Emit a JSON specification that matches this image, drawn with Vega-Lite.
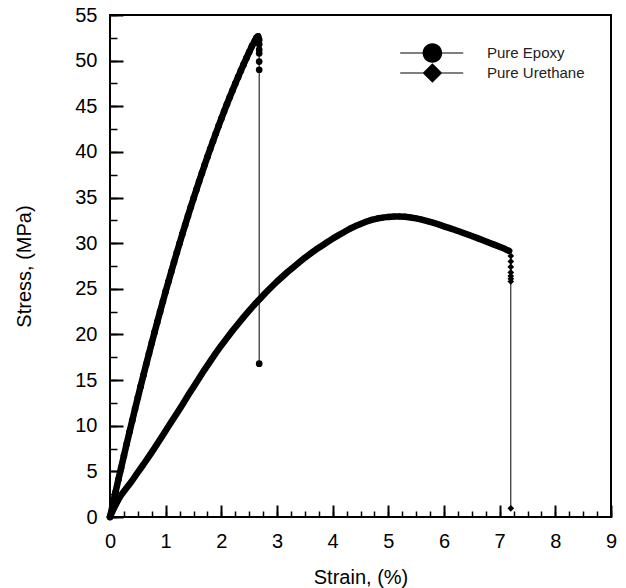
{
  "$schema": "https://vega.github.io/schema/vega-lite/v6.json",
  "width": 501,
  "height": 502,
  "autosize": {"type": "none"},
  "padding": {"left": 110, "top": 15, "right": 15, "bottom": 71},
  "background": "white",
  "config": {
    "view": {"stroke": "black", "strokeWidth": 2},
    "font": "Liberation Sans"
  },
  "data": {"values": [
    {"s":"Pure Epoxy","i":0,"p":"L","x":0,"y":0},
    {"s":"Pure Epoxy","i":1,"p":"L","x":0.05,"y":1.37},
    {"s":"Pure Epoxy","i":2,"p":"L","x":0.1,"y":2.73},
    {"s":"Pure Epoxy","i":3,"p":"L","x":0.15,"y":4.08},
    {"s":"Pure Epoxy","i":4,"p":"L","x":0.2,"y":5.4},
    {"s":"Pure Epoxy","i":5,"p":"L","x":0.25,"y":6.72},
    {"s":"Pure Epoxy","i":6,"p":"L","x":0.3,"y":8.02},
    {"s":"Pure Epoxy","i":7,"p":"L","x":0.35,"y":9.31},
    {"s":"Pure Epoxy","i":8,"p":"L","x":0.4,"y":10.58},
    {"s":"Pure Epoxy","i":9,"p":"L","x":0.45,"y":11.84},
    {"s":"Pure Epoxy","i":10,"p":"L","x":0.5,"y":13.08},
    {"s":"Pure Epoxy","i":11,"p":"L","x":0.55,"y":14.31},
    {"s":"Pure Epoxy","i":12,"p":"L","x":0.6,"y":15.52},
    {"s":"Pure Epoxy","i":13,"p":"L","x":0.65,"y":16.72},
    {"s":"Pure Epoxy","i":14,"p":"L","x":0.7,"y":17.9},
    {"s":"Pure Epoxy","i":15,"p":"L","x":0.75,"y":19.07},
    {"s":"Pure Epoxy","i":16,"p":"L","x":0.8,"y":20.23},
    {"s":"Pure Epoxy","i":17,"p":"L","x":0.85,"y":21.37},
    {"s":"Pure Epoxy","i":18,"p":"L","x":0.9,"y":22.5},
    {"s":"Pure Epoxy","i":19,"p":"L","x":0.95,"y":23.61},
    {"s":"Pure Epoxy","i":20,"p":"L","x":1.0,"y":24.71},
    {"s":"Pure Epoxy","i":21,"p":"L","x":1.05,"y":25.79},
    {"s":"Pure Epoxy","i":22,"p":"L","x":1.1,"y":26.86},
    {"s":"Pure Epoxy","i":23,"p":"L","x":1.15,"y":27.92},
    {"s":"Pure Epoxy","i":24,"p":"L","x":1.2,"y":28.96},
    {"s":"Pure Epoxy","i":25,"p":"L","x":1.25,"y":29.98},
    {"s":"Pure Epoxy","i":26,"p":"L","x":1.3,"y":31.0},
    {"s":"Pure Epoxy","i":27,"p":"L","x":1.35,"y":31.99},
    {"s":"Pure Epoxy","i":28,"p":"L","x":1.4,"y":32.98},
    {"s":"Pure Epoxy","i":29,"p":"L","x":1.45,"y":33.94},
    {"s":"Pure Epoxy","i":30,"p":"L","x":1.5,"y":34.9},
    {"s":"Pure Epoxy","i":31,"p":"L","x":1.55,"y":35.84},
    {"s":"Pure Epoxy","i":32,"p":"L","x":1.6,"y":36.76},
    {"s":"Pure Epoxy","i":33,"p":"L","x":1.65,"y":37.67},
    {"s":"Pure Epoxy","i":34,"p":"L","x":1.7,"y":38.57},
    {"s":"Pure Epoxy","i":35,"p":"L","x":1.75,"y":39.45},
    {"s":"Pure Epoxy","i":36,"p":"L","x":1.8,"y":40.32},
    {"s":"Pure Epoxy","i":37,"p":"L","x":1.85,"y":41.17},
    {"s":"Pure Epoxy","i":38,"p":"L","x":1.9,"y":42.01},
    {"s":"Pure Epoxy","i":39,"p":"L","x":1.95,"y":42.83},
    {"s":"Pure Epoxy","i":40,"p":"L","x":2.0,"y":43.64},
    {"s":"Pure Epoxy","i":41,"p":"L","x":2.05,"y":44.44},
    {"s":"Pure Epoxy","i":42,"p":"L","x":2.1,"y":45.22},
    {"s":"Pure Epoxy","i":43,"p":"L","x":2.15,"y":45.98},
    {"s":"Pure Epoxy","i":44,"p":"L","x":2.2,"y":46.73},
    {"s":"Pure Epoxy","i":45,"p":"L","x":2.25,"y":47.47},
    {"s":"Pure Epoxy","i":46,"p":"L","x":2.3,"y":48.19},
    {"s":"Pure Epoxy","i":47,"p":"L","x":2.35,"y":48.9},
    {"s":"Pure Epoxy","i":48,"p":"L","x":2.4,"y":49.59},
    {"s":"Pure Epoxy","i":49,"p":"L","x":2.45,"y":50.27},
    {"s":"Pure Epoxy","i":50,"p":"L","x":2.5,"y":50.94},
    {"s":"Pure Epoxy","i":51,"p":"L","x":2.55,"y":51.59},
    {"s":"Pure Epoxy","i":52,"p":"L","x":2.6,"y":52.15},
    {"s":"Pure Epoxy","i":53,"p":"L","x":2.63,"y":52.5},
    {"s":"Pure Epoxy","i":54,"p":"L","x":2.66,"y":52.65},
    {"s":"Pure Epoxy","i":55,"p":"F","x":2.68,"y":52.3},
    {"s":"Pure Epoxy","i":56,"p":"F","x":2.68,"y":51.8},
    {"s":"Pure Epoxy","i":57,"p":"F","x":2.68,"y":51.2},
    {"s":"Pure Epoxy","i":58,"p":"F","x":2.68,"y":50.8},
    {"s":"Pure Epoxy","i":59,"p":"F","x":2.68,"y":49.9},
    {"s":"Pure Epoxy","i":60,"p":"F","x":2.68,"y":49.0},
    {"s":"Pure Epoxy","i":61,"p":"F","x":2.68,"y":16.8},
    {"s":"Pure Urethane","i":0,"p":"L","x":0,"y":0},
    {"s":"Pure Urethane","i":1,"p":"L","x":0.05,"y":0.7},
    {"s":"Pure Urethane","i":2,"p":"L","x":0.1,"y":1.3},
    {"s":"Pure Urethane","i":3,"p":"L","x":0.15,"y":1.9},
    {"s":"Pure Urethane","i":4,"p":"L","x":0.2,"y":2.4},
    {"s":"Pure Urethane","i":5,"p":"L","x":0.3,"y":3.2},
    {"s":"Pure Urethane","i":6,"p":"L","x":0.4,"y":4.0},
    {"s":"Pure Urethane","i":7,"p":"L","x":0.5,"y":4.9},
    {"s":"Pure Urethane","i":8,"p":"L","x":0.6,"y":5.75},
    {"s":"Pure Urethane","i":9,"p":"L","x":0.7,"y":6.65},
    {"s":"Pure Urethane","i":10,"p":"L","x":0.8,"y":7.55},
    {"s":"Pure Urethane","i":11,"p":"L","x":0.9,"y":8.5},
    {"s":"Pure Urethane","i":12,"p":"L","x":1.0,"y":9.45},
    {"s":"Pure Urethane","i":13,"p":"L","x":1.1,"y":10.4},
    {"s":"Pure Urethane","i":14,"p":"L","x":1.2,"y":11.35},
    {"s":"Pure Urethane","i":15,"p":"L","x":1.3,"y":12.3},
    {"s":"Pure Urethane","i":16,"p":"L","x":1.4,"y":13.3},
    {"s":"Pure Urethane","i":17,"p":"L","x":1.5,"y":14.25},
    {"s":"Pure Urethane","i":18,"p":"L","x":1.6,"y":15.2},
    {"s":"Pure Urethane","i":19,"p":"L","x":1.7,"y":16.15},
    {"s":"Pure Urethane","i":20,"p":"L","x":1.8,"y":17.05},
    {"s":"Pure Urethane","i":21,"p":"L","x":1.9,"y":17.95},
    {"s":"Pure Urethane","i":22,"p":"L","x":2.0,"y":18.8},
    {"s":"Pure Urethane","i":23,"p":"L","x":2.1,"y":19.6},
    {"s":"Pure Urethane","i":24,"p":"L","x":2.2,"y":20.4},
    {"s":"Pure Urethane","i":25,"p":"L","x":2.3,"y":21.15},
    {"s":"Pure Urethane","i":26,"p":"L","x":2.4,"y":21.9},
    {"s":"Pure Urethane","i":27,"p":"L","x":2.5,"y":22.6},
    {"s":"Pure Urethane","i":28,"p":"L","x":2.6,"y":23.3},
    {"s":"Pure Urethane","i":29,"p":"L","x":2.7,"y":23.95},
    {"s":"Pure Urethane","i":30,"p":"L","x":2.8,"y":24.6},
    {"s":"Pure Urethane","i":31,"p":"L","x":2.9,"y":25.2},
    {"s":"Pure Urethane","i":32,"p":"L","x":3.0,"y":25.8},
    {"s":"Pure Urethane","i":33,"p":"L","x":3.1,"y":26.35},
    {"s":"Pure Urethane","i":34,"p":"L","x":3.2,"y":26.9},
    {"s":"Pure Urethane","i":35,"p":"L","x":3.3,"y":27.4},
    {"s":"Pure Urethane","i":36,"p":"L","x":3.4,"y":27.9},
    {"s":"Pure Urethane","i":37,"p":"L","x":3.5,"y":28.4},
    {"s":"Pure Urethane","i":38,"p":"L","x":3.6,"y":28.85},
    {"s":"Pure Urethane","i":39,"p":"L","x":3.7,"y":29.3},
    {"s":"Pure Urethane","i":40,"p":"L","x":3.8,"y":29.7},
    {"s":"Pure Urethane","i":41,"p":"L","x":3.9,"y":30.1},
    {"s":"Pure Urethane","i":42,"p":"L","x":4.0,"y":30.5},
    {"s":"Pure Urethane","i":43,"p":"L","x":4.1,"y":30.85},
    {"s":"Pure Urethane","i":44,"p":"L","x":4.2,"y":31.2},
    {"s":"Pure Urethane","i":45,"p":"L","x":4.3,"y":31.55},
    {"s":"Pure Urethane","i":46,"p":"L","x":4.4,"y":31.85},
    {"s":"Pure Urethane","i":47,"p":"L","x":4.5,"y":32.1},
    {"s":"Pure Urethane","i":48,"p":"L","x":4.6,"y":32.35},
    {"s":"Pure Urethane","i":49,"p":"L","x":4.7,"y":32.55},
    {"s":"Pure Urethane","i":50,"p":"L","x":4.8,"y":32.7},
    {"s":"Pure Urethane","i":51,"p":"L","x":4.9,"y":32.8},
    {"s":"Pure Urethane","i":52,"p":"L","x":5.0,"y":32.88},
    {"s":"Pure Urethane","i":53,"p":"L","x":5.1,"y":32.92},
    {"s":"Pure Urethane","i":54,"p":"L","x":5.2,"y":32.93},
    {"s":"Pure Urethane","i":55,"p":"L","x":5.3,"y":32.9},
    {"s":"Pure Urethane","i":56,"p":"L","x":5.4,"y":32.82},
    {"s":"Pure Urethane","i":57,"p":"L","x":5.5,"y":32.72},
    {"s":"Pure Urethane","i":58,"p":"L","x":5.6,"y":32.58},
    {"s":"Pure Urethane","i":59,"p":"L","x":5.7,"y":32.42},
    {"s":"Pure Urethane","i":60,"p":"L","x":5.8,"y":32.24},
    {"s":"Pure Urethane","i":61,"p":"L","x":5.9,"y":32.05},
    {"s":"Pure Urethane","i":62,"p":"L","x":6.0,"y":31.85},
    {"s":"Pure Urethane","i":63,"p":"L","x":6.1,"y":31.65},
    {"s":"Pure Urethane","i":64,"p":"L","x":6.2,"y":31.44},
    {"s":"Pure Urethane","i":65,"p":"L","x":6.3,"y":31.23},
    {"s":"Pure Urethane","i":66,"p":"L","x":6.4,"y":31.0},
    {"s":"Pure Urethane","i":67,"p":"L","x":6.5,"y":30.78},
    {"s":"Pure Urethane","i":68,"p":"L","x":6.6,"y":30.55},
    {"s":"Pure Urethane","i":69,"p":"L","x":6.7,"y":30.32},
    {"s":"Pure Urethane","i":70,"p":"L","x":6.8,"y":30.08},
    {"s":"Pure Urethane","i":71,"p":"L","x":6.9,"y":29.84},
    {"s":"Pure Urethane","i":72,"p":"L","x":7.0,"y":29.6},
    {"s":"Pure Urethane","i":73,"p":"L","x":7.1,"y":29.35},
    {"s":"Pure Urethane","i":74,"p":"L","x":7.17,"y":29.15},
    {"s":"Pure Urethane","i":75,"p":"F","x":7.2,"y":28.6},
    {"s":"Pure Urethane","i":76,"p":"F","x":7.2,"y":28.0},
    {"s":"Pure Urethane","i":77,"p":"F","x":7.2,"y":27.4},
    {"s":"Pure Urethane","i":78,"p":"F","x":7.2,"y":26.8},
    {"s":"Pure Urethane","i":79,"p":"F","x":7.2,"y":26.4},
    {"s":"Pure Urethane","i":80,"p":"F","x":7.2,"y":26.1},
    {"s":"Pure Urethane","i":81,"p":"F","x":7.2,"y":25.8},
    {"s":"Pure Urethane","i":82,"p":"F","x":7.2,"y":0.95}
  ]},
  "layer": [
    {
      "transform": [{"filter": "datum.p === 'L'"}],
      "mark": {"type": "line", "color": "black", "strokeWidth": 6.5, "strokeCap": "round", "strokeJoin": "round"},
      "encoding": {
        "x": {"field": "x", "type": "quantitative", "scale": {"domain": [0, 9], "nice": false, "zero": false},
          "axis": {"orient": "bottom", "values": [0,0.25,0.5,0.75,1,1.25,1.5,1.75,2,2.25,2.5,2.75,3,3.25,3.5,3.75,4,4.25,4.5,4.75,5,5.25,5.5,5.75,6,6.25,6.5,6.75,7,7.25,7.5,7.75,8,8.25,8.5,8.75,9],
            "tickSize": -6, "tickWidth": 1.5, "tickColor": "black", "labels": false, "domain": false, "grid": false, "title": null}},
        "y": {"field": "y", "type": "quantitative", "scale": {"domain": [0, 55], "nice": false, "zero": false},
          "axis": {"orient": "left", "values": [0,2.5,5,7.5,10,12.5,15,17.5,20,22.5,25,27.5,30,32.5,35,37.5,40,42.5,45,47.5,50,52.5,55],
            "tickSize": -7, "tickWidth": 1.5, "tickColor": "black", "labels": false, "domain": false, "grid": false, "title": null}},
        "detail": {"field": "s"},
        "order": {"field": "i"}
      }
    },
    {
      "mark": {"type": "line", "color": "black", "strokeWidth": 1},
      "encoding": {
        "x": {"field": "x", "type": "quantitative", "axis": null},
        "y": {"field": "y", "type": "quantitative", "axis": null},
        "detail": {"field": "s"},
        "order": {"field": "i"}
      }
    },
    {
      "mark": {"type": "point", "filled": true, "color": "black", "opacity": 1, "size": 45},
      "encoding": {
        "x": {"field": "x", "type": "quantitative",
          "axis": {"orient": "bottom", "values": [0,1,2,3,4,5,6,7,8,9], "tickSize": -12, "tickWidth": 2, "tickColor": "black",
            "domain": false, "grid": false, "labelFontSize": 20, "labelColor": "black", "labelPadding": 26,
            "labelFlush": false, "labelOverlap": false, "labelBound": false,
            "title": "Strain, (%)", "titleFontSize": 20, "titleFontWeight": "normal", "titleColor": "black", "titlePadding": 16}},
        "y": {"field": "y", "type": "quantitative",
          "axis": {"orient": "left", "values": [0,5,10,15,20,25,30,35,40,45,50,55], "tickSize": -13, "tickWidth": 2, "tickColor": "black",
            "domain": false, "grid": false, "labelFontSize": 20, "labelColor": "black", "labelPadding": 26,
            "labelFlush": false, "labelOverlap": false, "labelBound": false,
            "title": "Stress, (MPa)", "titleFontSize": 20, "titleFontWeight": "normal", "titleColor": "black", "titlePadding": 40}},
        "shape": {"field": "s", "type": "nominal",
          "scale": {"domain": ["Pure Epoxy", "Pure Urethane"], "range": ["circle", "diamond"]},
          "legend": null}
      }
    },
    {
      "transform": [{"filter": "false"}],
      "mark": {"type": "point", "filled": true, "color": "black", "opacity": 1},
      "encoding": {
        "x": {"field": "x", "type": "quantitative", "axis": null},
        "y": {"field": "y", "type": "quantitative", "axis": null},
        "shape": {"field": "s", "type": "nominal",
          "scale": {"domain": ["Pure Epoxy", "Pure Urethane"],
            "range": ["M-0.9,-0.07H8.1V0.07H-0.9ZM2.3,0A1.4,1.4,0,1,1,5.1,0A1.4,1.4,0,1,1,2.3,0Z", "M-0.9,-0.07H8.1V0.07H-0.9ZM3.7,-1.4L5.1,0L3.7,1.4L2.3,0Z"]},
          "legend": {"title": null, "orient": "none", "legendX": 289, "legendY": 28, "padding": 0, "rowPadding": 0, "clipHeight": 20,
            "symbolSize": 196, "symbolFillColor": "black", "symbolStrokeColor": "black", "symbolStrokeWidth": 0, "symbolOpacity": 1,
            "labelFontSize": 15, "labelColor": "#222", "labelOffset": 73}}
      }
    }
  ],
  "resolve": {"axis": {"x": "independent", "y": "independent"}, "scale": {"shape": "independent"}}
}
